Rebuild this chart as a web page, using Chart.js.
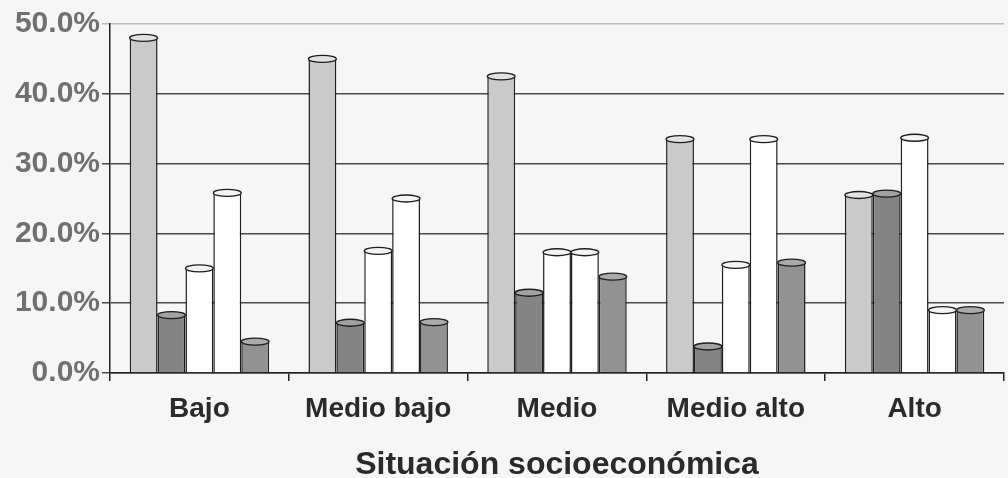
<!DOCTYPE html>
<html>
<head>
<meta charset="utf-8">
<script src="https://cdn.jsdelivr.net/npm/chart.js@4.4.1/dist/chart.umd.min.js"></script>
<style>
  html, body { margin: 0; padding: 0; background: #f6f6f6; }
  #wrap { width: 1008px; height: 478px; position: relative; }
</style>
</head>
<body>
<div id="wrap"><canvas id="chart"></canvas></div>
<script>
// categorias y valores (%)
const categorias = ['Bajo', 'Medio bajo', 'Medio', 'Medio alto', 'Alto'];
const serie1 = [48.0, 45.0, 42.5, 33.5, 25.5];
const serie2 = [8.3, 7.2, 11.5, 3.8, 25.7];
const serie3 = [15.0, 17.5, 17.3, 15.5, 33.7];
const serie4 = [25.8, 25.0, 17.3, 33.5, 9.0];
const serie5 = [4.5, 7.3, 13.8, 15.8, 9.0];
const ticksY = [0, 10, 20, 30, 40, 50];

const colores = ['#cacaca', '#848484', '#ffffff', '#ffffff', '#929292'];
const tapas = ['#e2e2e2', '#a2a2a2', '#f4f4f4', '#f4f4f4', '#aaaaaa'];

const datasets = [serie1, serie2, serie3, serie4, serie5].map((d, i) => ({
  label: 'Serie ' + (i + 1),
  data: d,
  backgroundColor: colores[i],
  borderColor: '#1e1e1e',
  borderWidth: 1.5,
  borderSkipped: 'bottom',
  categoryPercentage: 0.78,
  barPercentage: 1.0,
}));

// tapa elíptica de cada cilindro
const cilindros = {
  id: 'cilindros',
  afterDatasetsDraw(chart) {
    const ctx = chart.ctx;
    chart.data.datasets.forEach((ds, i) => {
      chart.getDatasetMeta(i).data.forEach(bar => {
        const { x, y, width } = bar.getProps(['x', 'y', 'width'], true);
        ctx.save();
        ctx.beginPath();
        ctx.ellipse(x, y, width / 2, 3.5, 0, 0, Math.PI * 2);
        ctx.fillStyle = tapas[i];
        ctx.fill();
        ctx.lineWidth = 1.3;
        ctx.strokeStyle = '#1e1e1e';
        ctx.stroke();
        ctx.restore();
      });
    });
  }
};

const fondo = {
  id: 'fondo',
  beforeDraw(chart) {
    const ctx = chart.ctx;
    ctx.save();
    ctx.fillStyle = '#f6f6f6';
    ctx.fillRect(0, 0, chart.width, chart.height);
    ctx.restore();
  }
};

new Chart(document.getElementById('chart').getContext('2d'), {
  type: 'bar',
  data: { labels: categorias, datasets: datasets },
  plugins: [fondo, cilindros],
  options: {
    responsive: true,
    maintainAspectRatio: false,
    animation: false,
    layout: { padding: { top: 24, right: 4, left: 0, bottom: 0 } },
    plugins: {
      legend: { display: false },
      tooltip: { enabled: false },
    },
    scales: {
      x: {
        grid: {
          offset: true,
          drawOnChartArea: false,
          drawTicks: true,
          tickLength: 8,
          color: '#222',
          lineWidth: 1.5,
        },
        border: { color: '#222', width: 1.5 },
        ticks: {
          color: '#2a2a2a',
          padding: 11,
          font: { family: 'Liberation Sans, Arial, sans-serif', size: 28, weight: 'bold' },
        },
        title: {
          display: true,
          text: 'Situación socioeconómica',
          color: '#2a2a2a',
          padding: { top: 14, bottom: -3 },
          font: { family: 'Liberation Sans, Arial, sans-serif', size: 32, weight: 'bold', lineHeight: 1 },
        },
        afterFit(scale) { scale.height = 105; },
      },
      y: {
        min: ticksY[0],
        max: ticksY[ticksY.length - 1],
        afterBuildTicks(scale) { scale.ticks = ticksY.map(v => ({ value: v })); },
        grid: {
          drawTicks: true,
          tickLength: 8,
          lineWidth: 1.5,
          color: c => (c.tick && c.tick.value === 50 ? '#bbbbbb' : '#4a4a4a'),
        },
        border: { color: '#222', width: 1.5 },
        ticks: {
          color: '#707070',
          padding: 2,
          font: { family: 'Liberation Sans, Arial, sans-serif', size: 30, weight: 'bold' },
          callback: v => v.toFixed(1) + '%',
        },
        afterFit(scale) { scale.width = 110; },
      },
    },
  },
});
</script>
</body>
</html>
